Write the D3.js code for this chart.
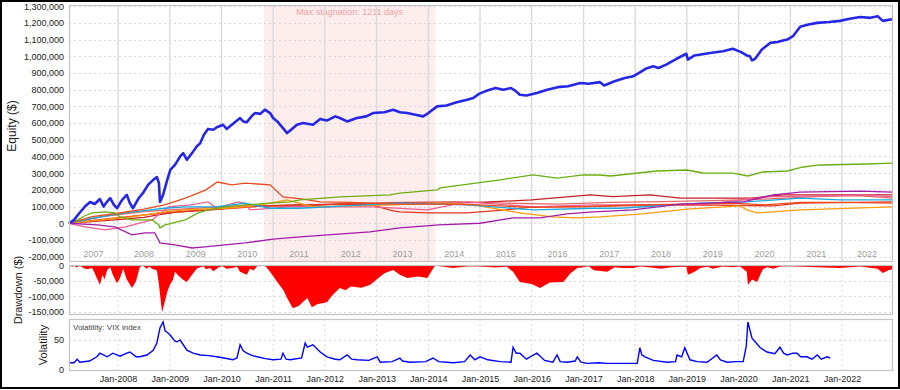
<!DOCTYPE html>
<html>
<head>
<meta charset="utf-8">
<script src="https://cdn.jsdelivr.net/npm/d3@7"></script>
<style>
  body { margin: 0; background: #fff; }
  svg { display: block; font-family: "Liberation Sans", Arial, sans-serif; }
</style>
</head>
<body>
<div id="chart"></div>
<script>
// ---- Data (dates as decimal years, equity in $) ----
var portfolio = [
  [2007.05,0],[2007.15,20000],[2007.25,60000],[2007.36,100000],[2007.46,127000],[2007.55,115000],
  [2007.65,145000],[2007.72,100000],[2007.79,130000],[2007.85,150000],[2007.92,110000],[2007.98,90000],
  [2008.08,140000],[2008.17,170000],[2008.23,120000],[2008.29,90000],[2008.40,150000],[2008.48,180000],
  [2008.58,230000],[2008.68,260000],[2008.75,277000],[2008.79,240000],[2008.81,128000],[2008.87,170000],
  [2008.95,260000],[2009.01,320000],[2009.10,350000],[2009.20,400000],[2009.26,420000],[2009.33,380000],
  [2009.43,420000],[2009.52,460000],[2009.59,480000],[2009.66,530000],[2009.74,565000],[2009.84,560000],
  [2009.91,575000],[2010.03,590000],[2010.10,565000],[2010.20,590000],[2010.36,630000],[2010.42,610000],
  [2010.49,605000],[2010.58,640000],[2010.65,660000],[2010.75,655000],[2010.84,680000],[2010.94,660000],
  [2011.00,630000],[2011.08,610000],[2011.19,570000],[2011.27,540000],[2011.33,555000],[2011.46,590000],
  [2011.58,600000],[2011.77,590000],[2011.91,625000],[2012.04,615000],[2012.20,640000],[2012.29,630000],
  [2012.43,610000],[2012.62,630000],[2012.80,640000],[2012.93,660000],[2013.15,665000],[2013.32,680000],
  [2013.45,665000],[2013.59,660000],[2013.75,650000],[2013.90,640000],[2014.00,660000],[2014.17,700000],
  [2014.35,705000],[2014.55,725000],[2014.75,740000],[2014.87,750000],[2014.98,775000],[2015.10,790000],
  [2015.19,800000],[2015.30,810000],[2015.45,800000],[2015.60,810000],[2015.70,790000],[2015.77,770000],
  [2015.90,765000],[2016.10,780000],[2016.30,800000],[2016.50,815000],[2016.70,820000],[2016.94,840000],
  [2017.10,835000],[2017.32,845000],[2017.40,825000],[2017.60,850000],[2017.80,870000],[2017.96,880000],
  [2018.10,905000],[2018.20,925000],[2018.35,940000],[2018.45,930000],[2018.60,950000],[2018.80,985000],
  [2018.99,1015000],[2019.02,980000],[2019.15,1005000],[2019.45,1020000],[2019.70,1030000],[2019.89,1045000],
  [2020.05,1025000],[2020.16,1005000],[2020.22,1000000],[2020.26,975000],[2020.32,985000],[2020.45,1040000],
  [2020.61,1080000],[2020.75,1085000],[2020.86,1095000],[2020.94,1100000],[2021.05,1120000],[2021.19,1177000],
  [2021.35,1190000],[2021.52,1200000],[2021.75,1205000],[2021.96,1212000],[2022.15,1225000],[2022.35,1235000],
  [2022.55,1230000],[2022.69,1240000],[2022.79,1212000],[2022.97,1222000]
];

var stratGreen = [
  [2007.05,0],[2007.22,20000],[2007.36,45000],[2007.50,62000],[2007.75,68000],[2007.94,62000],[2008.04,38000],
  [2008.27,20000],[2008.66,20000],[2008.79,-10000],[2008.81,-28000],[2008.91,-10000],[2009.30,20000],
  [2009.55,62000],[2009.74,80000],[2010.07,98000],[2010.46,110000],[2010.94,120000],[2011.33,128000],
  [2011.52,140000],[2012.29,158000],[2013.26,170000],[2013.45,180000],[2014.17,200000],[2014.23,212000],
  [2015.39,260000],[2016.03,290000],[2016.49,270000],[2017.00,290000],[2017.32,289000],[2017.52,283000],
  [2018.42,313000],[2019.00,319000],[2019.31,301000],[2019.89,300000],[2020.18,283000],[2020.47,307000],
  [2020.94,313000],[2021.25,337000],[2021.57,349000],[2022.48,355000],[2022.97,360000]
];
var stratOrangeRed = [
  [2007.05,0],[2007.50,40000],[2008.00,60000],[2008.50,85000],[2008.90,110000],[2009.30,150000],
  [2009.70,200000],[2009.92,247000],[2010.20,230000],[2010.46,240000],[2010.94,230000],[2011.19,158000],
  [2011.58,145000],[2011.91,128000],[2012.50,125000],[2013.30,115000],[2014.20,115000],[2015.00,110000],
  [2016.00,95000],[2017.00,100000],[2018.00,110000],[2019.00,115000],[2019.90,120000],[2020.50,110000],
  [2021.20,125000],[2022.00,125000],[2022.97,120000]
];
var stratRed = [
  [2007.05,0],[2007.60,20000],[2008.20,40000],[2008.80,60000],[2009.50,75000],[2010.20,90000],
  [2010.90,105000],[2011.60,110000],[2012.30,115000],[2012.90,110000],[2013.30,75000],[2013.45,68000],
  [2014.00,62000],[2014.75,62000],[2015.50,80000],[2016.03,98000],[2017.00,100000],[2018.00,105000],
  [2019.26,110000],[2020.67,104000],[2021.20,120000],[2022.97,128000]
];
var stratDarkRed = [
  [2007.05,0],[2007.94,20000],[2008.50,35000],[2008.77,50000],[2009.16,68000],[2009.74,80000],
  [2010.50,100000],[2011.50,110000],[2012.50,115000],[2013.50,120000],[2014.50,120000],[2015.00,125000],
  [2016.00,140000],[2017.13,170000],[2017.57,160000],[2018.29,170000],[2018.87,150000],[2020.22,150000],
  [2020.86,170000],[2022.48,170000],[2022.97,170000]
];
var stratPurple = [
  [2007.05,0],[2007.60,-10000],[2007.94,-22000],[2008.27,-70000],[2008.52,-58000],[2008.71,-58000],
  [2008.81,-118000],[2009.10,-130000],[2009.43,-148000],[2009.68,-142000],[2010.07,-130000],[2010.46,-118000],
  [2011.00,-95000],[2011.52,-82000],[2012.87,-52000],[2013.45,-28000],[2014.20,-10000],[2015.00,0],
  [2015.64,32000],[2016.16,32000],[2016.68,56000],[2017.19,68000],[2017.96,80000],[2018.87,115000],
  [2020.09,128000],[2020.67,170000],[2021.19,187000],[2022.35,193000],[2022.97,187000]
];
var stratCyan = [
  [2007.05,0],[2007.50,30000],[2008.14,62000],[2008.90,90000],[2009.30,98000],[2009.88,98000],
  [2010.46,120000],[2010.94,90000],[2011.52,90000],[2012.50,105000],[2013.45,120000],[2014.75,110000],
  [2016.03,80000],[2017.19,90000],[2017.71,90000],[2019.26,120000],[2020.16,128000],[2021.19,150000],
  [2021.96,140000],[2022.97,140000]
];
var stratOrange = [
  [2007.05,0],[2007.70,20000],[2008.27,38000],[2008.91,68000],[2009.30,80000],[2010.07,90000],
  [2010.50,100000],[2010.94,120000],[2011.27,140000],[2011.77,98000],[2013.26,110000],[2014.23,120000],
  [2014.87,110000],[2015.77,62000],[2016.41,38000],[2016.88,32000],[2017.32,38000],[2018.15,56000],
  [2019.00,85000],[2020.03,104000],[2020.16,80000],[2020.36,62000],[2021.19,80000],[2022.97,98000]
];
var stratPink = [
  [2007.05,0],[2007.36,-22000],[2007.75,-40000],[2008.14,-22000],[2008.66,20000],[2008.97,98000],
  [2009.40,110000],[2009.74,128000],[2009.91,90000],[2010.32,128000],[2010.46,120000],[2010.55,80000],
  [2011.33,98000],[2012.93,98000],[2013.98,80000],[2014.75,128000],[2016.03,98000],[2017.19,110000],
  [2019.26,110000],[2020.55,158000],[2022.48,170000],[2022.97,158000]
];
var stratSalmon = [
  [2007.05,0],[2007.70,40000],[2008.50,70000],[2009.50,90000],[2010.50,105000],[2011.50,100000],
  [2012.50,120000],[2013.50,125000],[2014.50,130000],[2015.50,120000],[2016.50,115000],[2017.50,125000],
  [2018.50,130000],[2019.50,135000],[2020.50,145000],[2021.50,160000],[2022.30,165000],[2022.97,150000]
];

var strategies = [stratSalmon, stratDarkRed, stratRed, stratPink, stratOrange, stratCyan, stratOrangeRed, stratPurple, stratGreen];
var strategyColors = ["#e46a6a", "#c42222", "#e2351f", "#ee5f92", "#ff9c0a", "#1ca9dc", "#ec4a1c", "#a31ca8", "#6cae12"];

var drawdown = [
  [2007.05,0],[2007.12,-4000],[2007.15,0],[2007.20,-6000],[2007.26,0],[2007.33,-8000],[2007.40,-12000],
  [2007.50,-8000],[2007.55,-25000],[2007.59,-40000],[2007.65,-63000],[2007.70,-30000],[2007.74,-45000],
  [2007.79,-14000],[2007.85,-5000],[2007.90,-30000],[2007.98,-57000],[2008.04,-40000],[2008.10,-10000],
  [2008.17,-45000],[2008.27,-73000],[2008.35,-50000],[2008.42,-5000],[2008.48,0],[2008.55,-10000],
  [2008.60,-4000],[2008.68,-12000],[2008.75,-15000],[2008.79,-60000],[2008.85,-151000],[2008.90,-120000],
  [2008.95,-86000],[2009.01,-60000],[2009.06,-47000],[2009.10,-20000],[2009.15,-30000],[2009.25,-45000],
  [2009.33,-53000],[2009.43,-30000],[2009.52,-10000],[2009.59,-5000],[2009.65,-2000],[2009.70,-12000],
  [2009.78,-8000],[2009.84,-18000],[2009.95,-5000],[2010.02,-2000],[2010.10,-10000],[2010.22,-8000],
  [2010.30,-4000],[2010.36,-20000],[2010.49,-30000],[2010.55,-10000],[2010.62,-16000],[2010.69,-2000],
  [2010.84,0],[2010.94,-20000],[2011.08,-53000],[2011.20,-80000],[2011.27,-105000],[2011.38,-138000],
  [2011.50,-130000],[2011.66,-105000],[2011.75,-135000],[2011.85,-125000],[2012.04,-119000],[2012.15,-95000],
  [2012.29,-73000],[2012.40,-80000],[2012.50,-68000],[2012.70,-72000],[2012.87,-63000],[2013.00,-45000],
  [2013.15,-25000],[2013.32,-14000],[2013.45,-30000],[2013.59,-40000],[2013.80,-35000],[2013.98,-40000],
  [2014.13,0],[2014.30,-4000],[2014.48,-8000],[2014.61,-5000],[2014.80,-2000],[2015.00,-3000],
  [2015.30,-6000],[2015.52,-4000],[2015.64,-20000],[2015.77,-53000],[2016.00,-60000],[2016.16,-73000],
  [2016.35,-55000],[2016.61,-53000],[2016.75,-25000],[2016.88,-8000],[2017.00,-5000],[2017.10,-2000],
  [2017.20,-15000],[2017.46,-20000],[2017.60,-5000],[2017.75,-8000],[2017.96,-8000],[2018.10,-3000],
  [2018.30,-6000],[2018.50,-10000],[2018.70,-5000],[2018.99,-4000],[2019.02,-30000],[2019.15,-20000],
  [2019.26,-8000],[2019.40,-4000],[2019.50,-10000],[2019.70,-3000],[2019.89,-5000],[2020.03,-3000],
  [2020.16,-20000],[2020.18,-63000],[2020.26,-45000],[2020.36,-53000],[2020.42,-30000],[2020.47,-12000],
  [2020.55,-5000],[2020.67,-10000],[2020.80,-3000],[2021.00,-2000],[2021.50,-5000],[2021.96,-8000],
  [2022.35,-3000],[2022.69,-10000],[2022.79,-24000],[2022.90,-15000],[2022.97,-12000]
];

var vix = [
  [2007.05,12],[2007.15,12],[2007.21,18],[2007.26,13],[2007.45,15],[2007.59,22],[2007.65,28],[2007.79,22],
  [2007.90,28],[2008.04,23],[2008.17,28],[2008.23,30],[2008.35,22],[2008.42,22],[2008.56,25],[2008.68,33],
  [2008.75,45],[2008.81,70],[2008.87,80],[2008.91,65],[2008.95,63],[2009.01,58],[2009.10,48],[2009.14,47],
  [2009.20,50],[2009.33,33],[2009.45,28],[2009.59,25],[2009.75,24],[2009.91,22],[2010.05,20],[2010.22,17],
  [2010.30,20],[2010.36,42],[2010.42,32],[2010.49,28],[2010.60,24],[2010.69,22],[2010.85,19],[2011.00,17],
  [2011.15,18],[2011.19,28],[2011.25,18],[2011.33,17],[2011.55,20],[2011.62,45],[2011.66,38],[2011.77,42],
  [2011.91,30],[2012.04,22],[2012.20,18],[2012.29,17],[2012.43,25],[2012.52,18],[2012.62,17],[2012.85,16],
  [2013.01,22],[2013.07,13],[2013.30,14],[2013.45,20],[2013.50,15],[2013.65,13],[2013.95,14],[2014.09,20],
  [2014.20,14],[2014.48,12],[2014.70,14],[2014.81,25],[2014.90,17],[2015.00,22],[2015.15,17],[2015.39,14],
  [2015.60,13],[2015.64,38],[2015.70,28],[2015.77,28],[2015.90,18],[2016.03,25],[2016.10,28],[2016.25,16],
  [2016.41,13],[2016.49,25],[2016.55,14],[2016.68,13],[2016.84,15],[2016.88,22],[2016.95,13],[2017.07,11],
  [2017.30,12],[2017.45,11],[2017.71,11],[2018.04,11],[2018.09,37],[2018.13,25],[2018.19,22],[2018.35,16],
  [2018.62,13],[2018.78,14],[2018.81,25],[2018.90,22],[2018.96,37],[2019.06,17],[2019.20,14],[2019.39,13],
  [2019.58,25],[2019.65,17],[2019.78,13],[2019.95,14],[2020.09,14],[2020.15,40],[2020.18,80],[2020.26,53],
  [2020.42,37],[2020.55,30],[2020.70,27],[2020.80,38],[2020.87,28],[2020.94,25],[2021.05,28],[2021.13,28],
  [2021.20,22],[2021.32,22],[2021.42,18],[2021.52,25],[2021.60,18],[2021.71,22],[2021.77,20]
];

var equityTicks = [-200000,-100000,0,100000,200000,300000,400000,500000,600000,700000,800000,900000,1000000,1100000,1200000,1300000];
var drawdownTicks = [0,-50000,-100000,-150000];
var volTicks = [0,50];
var yearLabels = [2007,2008,2009,2010,2011,2012,2013,2014,2015,2016,2017,2018,2019,2020,2021,2022];
var stagnation = ["2010-10-28", "2014-02-20"];
var stagnationLabel = "Max stagnation: 1211 days";

// ---- Layout ----
var width = 900, height = 390;
var left = 69, right = 892;
var eqTop = 5, eqBottom = 261;
var ddTop = 265, ddBottom = 314;
var volTop = 319, volBottom = 370;

function yearToDate(y) {
  var yr = Math.floor(y);
  var a = new Date(yr, 0, 1), b = new Date(yr + 1, 0, 1);
  return new Date(+a + (y - yr) * (b - a));
}

var fmt = d3.formatLocale({decimal: ".", thousands: ",", grouping: [3], currency: ["$", ""], minus: "-"}).format(",");

var x = d3.scaleTime()
  .domain([yearToDate(2007.052), yearToDate(2022.967)])
  .range([left, right]);
var yEq = d3.scaleLinear().domain([-226000, 1307000]).range([eqBottom, eqTop]);
var yDd = d3.scaleLinear().domain([-157000, 2000]).range([ddBottom, ddTop]);
var yVol = d3.scaleLinear().domain([0, 85]).range([volBottom, volTop]);

var svg = d3.select("#chart")
  .append("svg")
  .attr("width", width)
  .attr("height", height);

svg.append("rect").attr("width", width).attr("height", height).attr("fill", "#fff");

// Stagnation band
var s0 = x(new Date(stagnation[0])), s1 = x(new Date(stagnation[1]));
svg.append("rect")
  .attr("x", s0).attr("y", eqTop)
  .attr("width", s1 - s0).attr("height", eqBottom - eqTop)
  .attr("fill", "#fdeded");
svg.append("text")
  .attr("x", (s0 + s1) / 2).attr("y", 15)
  .attr("text-anchor", "middle")
  .style("font-size", "9px")
  .attr("fill", "#f2a3a3")
  .text(stagnationLabel);

// Gridlines
var janTicks = yearLabels.slice(1).map(function(y) { return new Date(y, 0, 1); });

svg.append("g").selectAll("line")
  .data(equityTicks)
  .enter().append("line")
  .attr("x1", left).attr("x2", right)
  .attr("y1", function(d) { return Math.round(yEq(d)) + 0.5; })
  .attr("y2", function(d) { return Math.round(yEq(d)) + 0.5; })
  .attr("stroke", "#d8d8d8").attr("stroke-dasharray", "2,3");

svg.append("g").selectAll("line")
  .data(janTicks)
  .enter().append("line")
  .attr("x1", function(d) { return x(d); }).attr("x2", function(d) { return x(d); })
  .attr("y1", eqTop).attr("y2", eqBottom)
  .attr("stroke", "#dcdcdc").attr("stroke-width", 1.5);

[[yDd, drawdownTicks, ddTop, ddBottom], [yVol, volTicks, volTop, volBottom]].forEach(function(p) {
  svg.append("g").selectAll("line")
    .data(p[1])
    .enter().append("line")
    .attr("x1", left).attr("x2", right)
    .attr("y1", function(d) { return Math.round(p[0](d)) + 0.5; })
    .attr("y2", function(d) { return Math.round(p[0](d)) + 0.5; })
    .attr("stroke", "#d8d8d8").attr("stroke-dasharray", "2,3");
  svg.append("g").selectAll("line")
    .data(janTicks)
    .enter().append("line")
    .attr("x1", function(d) { return x(d); }).attr("x2", function(d) { return x(d); })
    .attr("y1", p[2]).attr("y2", p[3])
    .attr("stroke", "#d8d8d8").attr("stroke-dasharray", "2,3");
});

// Year labels inside the equity panel
svg.append("g").selectAll("text")
  .data(yearLabels)
  .enter().append("text")
  .attr("x", function(d) {
    var a = Math.max(x(new Date(d, 0, 1)), left), b = Math.min(x(new Date(d + 1, 0, 1)), right);
    return (a + b) / 2;
  })
  .attr("y", 257)
  .attr("text-anchor", "middle")
  .style("font-size", "9px")
  .attr("fill", "#a0a0a0")
  .text(function(d) { return d; });

// Strategy lines
var line = d3.line()
  .x(function(d) { return x(yearToDate(d[0])); })
  .y(function(d) { return yEq(d[1]); });

svg.append("g").selectAll("path")
  .data(strategies)
  .enter().append("path")
  .attr("d", line)
  .attr("fill", "none")
  .attr("stroke", function(d, i) { return strategyColors[i]; })
  .attr("stroke-width", 1.3);

svg.append("path")
  .datum(portfolio)
  .attr("d", line)
  .attr("fill", "none")
  .attr("stroke", "#2626e6")
  .attr("stroke-width", 2.6)
  .attr("stroke-linejoin", "round");

// Drawdown area
var area = d3.area()
  .x(function(d) { return x(yearToDate(d[0])); })
  .y0(yDd(0))
  .y1(function(d) { return yDd(d[1]); });
svg.append("path")
  .datum(drawdown)
  .attr("d", area)
  .attr("fill", "#ff0000");

// VIX line
svg.append("path")
  .datum(vix)
  .attr("d", d3.line()
    .x(function(d) { return x(yearToDate(d[0])); })
    .y(function(d) { return yVol(d[1]); }))
  .attr("fill", "none")
  .attr("stroke", "#0000ff")
  .attr("stroke-width", 1.4);

svg.append("text")
  .attr("x", 73).attr("y", 330)
  .style("font-size", "8px")
  .attr("fill", "#444")
  .text("Volatility: VIX index");

// Panel frames
[[eqTop, eqBottom], [ddTop, ddBottom], [volTop, volBottom]].forEach(function(p) {
  svg.append("rect")
    .attr("x", left + 0.5).attr("y", p[0] + 0.5)
    .attr("width", right - left).attr("height", p[1] - p[0])
    .attr("fill", "none").attr("stroke", "#c4c4c4").attr("stroke-width", 1.2);
});

// Axes
function leftAxis(scale, ticks) {
  return d3.axisLeft(scale).tickValues(ticks).tickSize(0).tickPadding(5)
    .tickFormat(function(d) { return d === 0 ? "0" : fmt(d); });
}
[[yEq, equityTicks], [yDd, drawdownTicks], [yVol, volTicks]].forEach(function(p) {
  var g = svg.append("g")
    .attr("transform", "translate(" + left + ",0)")
    .call(leftAxis(p[0], p[1]));
  g.select(".domain").remove();
  g.selectAll("text").style("font-size", "9px").attr("fill", "#222").style("font-family", "Liberation Sans, Arial, sans-serif");
});

var xAxis = svg.append("g")
  .attr("transform", "translate(0," + volBottom + ")")
  .call(d3.axisBottom(x).tickValues(janTicks).tickSize(0).tickPadding(6)
    .tickFormat(d3.timeFormat("Jan-%Y")));
xAxis.select(".domain").remove();
xAxis.selectAll("text").style("font-size", "9px").attr("fill", "#222").style("font-family", "Liberation Sans, Arial, sans-serif");

// Axis titles
function yTitle(label, cx, cy, size) {
  svg.append("text")
    .attr("transform", "translate(" + cx + "," + cy + ") rotate(-90)")
    .attr("text-anchor", "middle")
    .attr("dy", "0.35em")
    .style("font-size", size)
    .attr("fill", "#222")
    .text(label);
}
yTitle("Equity ($)", 12, 126, "12px");
yTitle("Drawdown ($)", 18, 290, "11px");
yTitle("Volatility", 43, 345, "11px");

// Outer frame
svg.append("rect")
  .attr("x", 1).attr("y", 1)
  .attr("width", width - 2).attr("height", height - 3)
  .attr("fill", "none").attr("stroke", "#000").attr("stroke-width", 2);
</script>
</body>
</html>
